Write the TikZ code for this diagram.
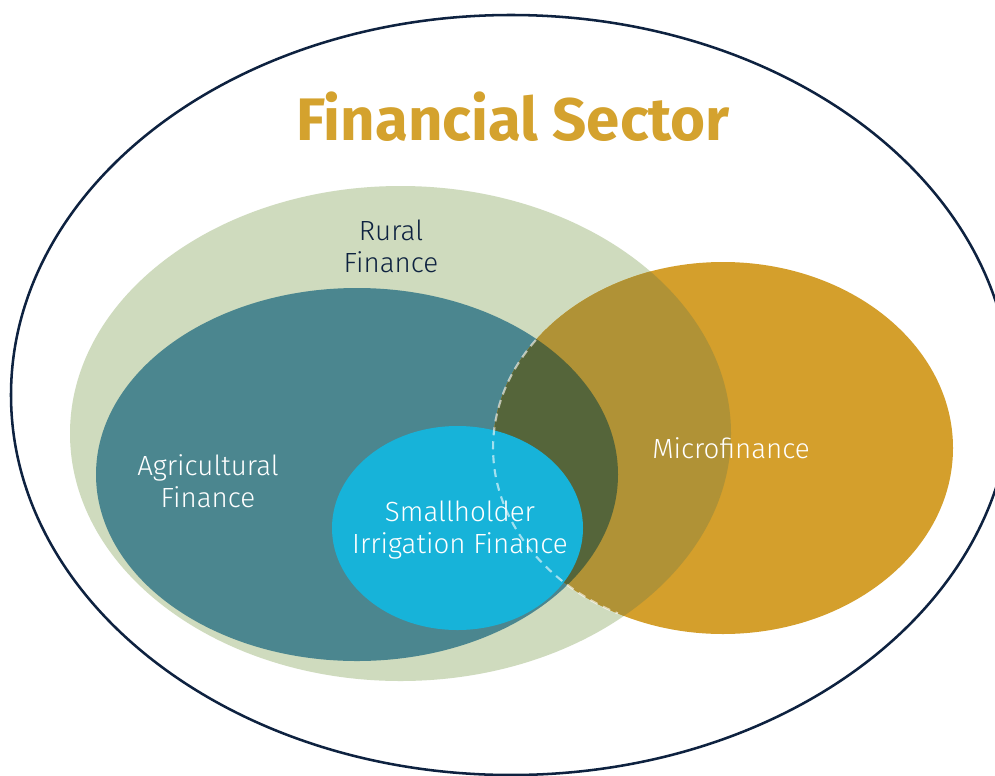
\documentclass[tikz,border=0pt]{standalone}
\usepackage{fontspec}
\setmainfont{Fira Sans}
\newfontfamily\lightfont{Fira Sans Light}
\usetikzlibrary{calc}
\definecolor{navy}{HTML}{0E2240}
\definecolor{ruralgreen}{HTML}{CFDBBE}
\definecolor{agteal}{HTML}{4B868F}
\definecolor{smcyan}{HTML}{17B3D9}
\definecolor{mfgold}{HTML}{D49F2C}
\definecolor{goldgreen}{HTML}{B09236}
\definecolor{goldteal}{HTML}{55653A}
\definecolor{titlegold}{HTML}{D4A22E}
\tikzset{
  lbl/.style={inner sep=0pt, align=center, font=\lightfont\fontsize{20.8}{24}\selectfont},
  dashline/.style={draw=white, draw opacity=0.6, line width=1.6pt, dash pattern=on 6pt off 4.5pt}
}
\begin{document}
\begin{tikzpicture}[x=0.75pt,y=-0.75pt]
\useasboundingbox (0,0) rectangle (995,775);
\clip (0,0) rectangle (995,775);
\fill[white] (0,0) rectangle (995,775);
% outer ellipse
\draw[navy, line width=1.9pt] (511,395) ellipse [x radius=500, y radius=380];
% rural finance
\fill[ruralgreen] (400.5,433.5) ellipse [x radius=330.5, y radius=247.5];
% agricultural finance
\fill[agteal] (357,474.5) ellipse [x radius=261, y radius=186.5];
% microfinance
\fill[mfgold] (723,448) ellipse [x radius=230, y radius=186];
\begin{scope}
  \clip (723,448) ellipse [x radius=230, y radius=186];
  \fill[goldgreen] (400.5,433.5) ellipse [x radius=330.5, y radius=247.5];
  \fill[goldteal] (357,474.5) ellipse [x radius=261, y radius=186.5];
\end{scope}
% smallholder
\fill[smcyan] (457.5,528) ellipse [x radius=125.5, y radius=102];
% dashed boundary
\draw[dashline] (535.8,340) arc [start angle=215.5, end angle=117.2, x radius=230, y radius=186];
% texts
\node[inner sep=0pt, anchor=base, text=titlegold, font=\fontsize{45}{50}\selectfont\bfseries] (title) at (513,140) {Financial Sector};
\node[lbl, text=navy] (rural) at (391,246) {Rural\\Finance};
\node[lbl, text=white] (agri) at (208,481) {Agricultural\\Finance};
\node[lbl, text=white] (small) at (460,530) {Smallholder\\Irrigation Finance};
\node[lbl, text=white, anchor=base] (micro) at (731,458) {Microfinance};
\end{tikzpicture}
\end{document}
